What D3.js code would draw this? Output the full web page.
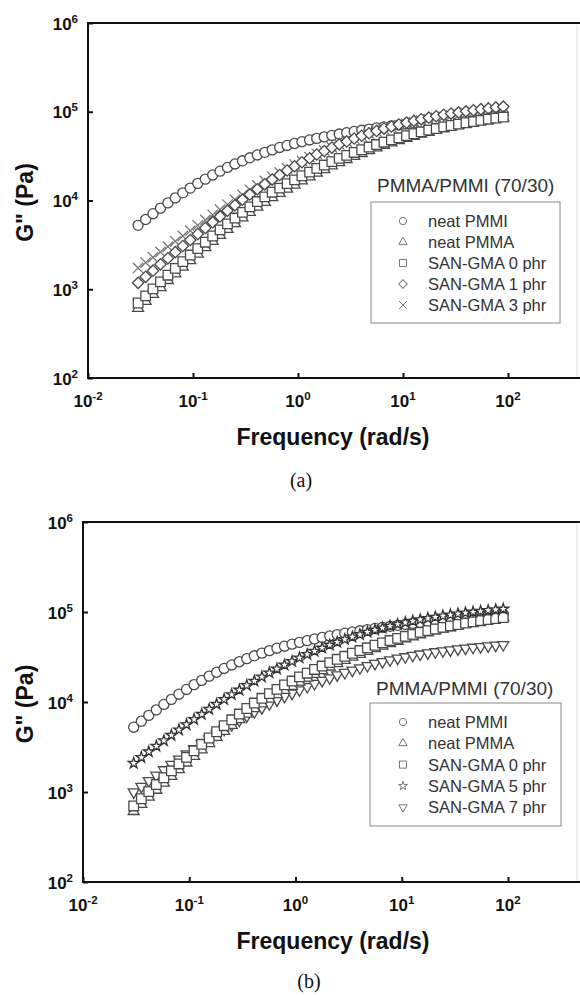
<!DOCTYPE html>
<html>
<head>
<meta charset="utf-8">
<script src="https://cdn.jsdelivr.net/npm/d3@7"></script>
<style>
  body { margin: 0; background: #fff; }
  svg { display: block; }
</style>
</head>
<body>
<div id="chart"></div>
<script>
// Loss modulus G'' vs frequency, PMMA/PMMI (70/30) blends

// Frequency (rad/s), same grid for all samples
const freq = [
    0.0300, 0.0354, 0.0416, 0.0490, 0.0577, 0.0679, 0.0800, 0.0942, 0.111, 0.131,
    0.154, 0.181, 0.213, 0.251, 0.296, 0.348, 0.410, 0.483, 0.568, 0.669,
    0.788, 0.928, 1.09, 1.29, 1.51, 1.78, 2.10, 2.47, 2.91, 3.43,
    4.04, 4.75, 5.60, 6.59, 7.76, 9.14, 10.8, 12.7, 14.9, 17.6,
    20.7, 24.4, 28.7, 33.8, 39.8, 46.9, 55.2, 65.0, 76.6, 90.2
];

// G'' (Pa)
const neatPMMI = [
    5250, 6110, 7100, 8180, 9400, 10700, 12200, 13800, 15600, 17400,
    19400, 21400, 23600, 25800, 28000, 30300, 32600, 34900, 37200, 39600,
    41700, 43900, 46000, 48100, 50100, 52100, 54100, 56100, 58100, 60000,
    61800, 63700, 65600, 67500, 69300, 71100, 72900, 74800, 76600, 78300,
    80200, 81900, 83600, 85300, 86900, 88500, 90000, 91400, 92900, 94400
];
const neatPMMA = [
    610, 733, 879, 1050, 1260, 1500, 1780, 2110, 2500, 2950,
    3470, 4060, 4740, 5520, 6400, 7380, 8470, 9570, 10800, 12100,
    13500, 15000, 16700, 18500, 20400, 22400, 24600, 26800, 29100, 31600,
    34000, 36600, 39300, 42000, 44800, 47500, 50400, 53200, 56100, 59000,
    61800, 64700, 67500, 70300, 73100, 75900, 78500, 81300, 84000, 86500
];
const sanGma0 = [
    700, 841, 1010, 1210, 1440, 1720, 2050, 2430, 2870, 3390,
    3980, 4670, 5450, 6340, 7350, 8470, 9730, 11000, 12400, 13800,
    15500, 17100, 19000, 20900, 23000, 25100, 27400, 29800, 32200, 34800,
    37300, 40000, 42700, 45400, 48200, 50900, 53700, 56500, 59300, 62100,
    64700, 67500, 70000, 72600, 75200, 77600, 80000, 82400, 84700, 86900
];
const sanGma1 = [
    1180, 1380, 1620, 1910, 2230, 2620, 3070, 3590, 4200, 4900,
    5700, 6620, 7670, 8850, 10200, 11700, 13400, 15200, 17200, 19400,
    21800, 24300, 27000, 29900, 33000, 36100, 39500, 42900, 46300, 49900,
    53600, 57200, 60800, 64600, 68200, 71800, 75300, 78900, 82200, 85700,
    88900, 92300, 95300, 98200, 101000, 104000, 107000, 109000, 112000, 114000
];
const sanGma3 = [
    1740, 2000, 2290, 2630, 3020, 3470, 3980, 4570, 5250, 6030,
    6900, 7890, 9000, 10200, 11600, 13200, 14800, 16600, 18600, 20700,
    23000, 25400, 28000, 30700, 33600, 36600, 39700, 43000, 46200, 49700,
    53100, 56500, 60000, 63400, 66700, 70000, 73100, 76200, 79300, 82200,
    85100, 87700, 90200, 92500, 94800, 97100, 99100, 101000, 103000, 105000
];
const sanGma5 = [
    2090, 2420, 2800, 3230, 3720, 4270, 4900, 5610, 6410, 7310,
    8320, 9440, 10700, 12100, 13600, 15300, 17100, 19000, 21100, 23300,
    25800, 28300, 31000, 33800, 36700, 39800, 43000, 46200, 49600, 52800,
    56200, 59700, 63100, 66500, 69800, 73100, 76200, 79300, 82200, 85100,
    87900, 90600, 93100, 95500, 98000, 100000, 102000, 104000, 106000, 108000
];
const sanGma7 = [
    1000, 1150, 1330, 1530, 1760, 2020, 2310, 2640, 3010, 3420,
    3880, 4390, 4960, 5570, 6250, 6980, 7760, 8610, 9510, 10500,
    11500, 12500, 13600, 14800, 16000, 17300, 18500, 19900, 21200, 22500,
    23900, 25300, 26700, 28000, 29300, 30600, 31700, 32900, 34000, 35000,
    36000, 36900, 37800, 38700, 39500, 40400, 41100, 41900, 42600, 43300
];

// Axis ticks
const xTicks = [1e-2, 1e-1, 1, 10, 100];
const xTickExps = ["-2", "-1", "0", "1", "2"];
const yTicks = [1e2, 1e3, 1e4, 1e5, 1e6];
const yTickExps = ["2", "3", "4", "5", "6"];

const legendTitle = "PMMA/PMMI (70/30)";
const xTitle = "Frequency (rad/s)";
const yTitle = "G\" (Pa)";

// Marker styles
const styles = {
    pmmi:  { label: "neat PMMI",       symbol: d3.symbolCircle,   size: 80, rot: 0,   stroke: "#4a4a4a", legendSize: 42 },
    pmma:  { label: "neat PMMA",       symbol: d3.symbolTriangle, size: 52, rot: 0,   stroke: "#4a4a4a", legendSize: 30 },
    g0:    { label: "SAN-GMA 0 phr",   symbol: d3.symbolSquare,   size: 92, rot: 0,   stroke: "#4a4a4a", legendSize: 50 },
    g1:    { label: "SAN-GMA 1 phr",   symbol: d3.symbolSquare,   size: 64, rot: 45,  stroke: "#4a4a4a", legendSize: 36 },
    g3:    { label: "SAN-GMA 3 phr",   symbol: d3.symbolTimes,    size: 72, rot: 0,   stroke: "#777", legendSize: 42 },
    g5:    { label: "SAN-GMA 5 phr",   symbol: d3.symbolStar,     size: 36, rot: 0,   stroke: "#333", legendSize: 24 },
    g7:    { label: "SAN-GMA 7 phr",   symbol: d3.symbolTriangle, size: 52, rot: 180, stroke: "#4a4a4a", legendSize: 30 }
};

const panels = [
    {
        name: "(a)", left: 88, x100: 508, top: 23, bottom: 378,
        series: { pmmi: neatPMMI, pmma: neatPMMA, g0: sanGma0, g1: sanGma1, g3: sanGma3 },
        legendOrder: ["pmmi", "pmma", "g0", "g1", "g3"],
        drawOrder: ["pmmi", "g3", "g1", "pmma", "g0"],
        legend: { titleX: 377, titleY: 192, x: 371, y: 202, w: 189, h: 121, row0: 221, rowStep: 21 },
        caption: { x: 301, y: 487 }
    },
    {
        name: "(b)", left: 83, x100: 508, top: 522, bottom: 882,
        series: { pmmi: neatPMMI, pmma: neatPMMA, g0: sanGma0, g5: sanGma5, g7: sanGma7 },
        legendOrder: ["pmmi", "pmma", "g0", "g5", "g7"],
        drawOrder: ["pmmi", "g7", "pmma", "g0", "g5"],
        legend: { titleX: 376, titleY: 695, x: 370, y: 703, w: 191, h: 123, row0: 722, rowStep: 21.3 },
        caption: { x: 309, y: 988 }
    }
];

const W = 580, H = 995;
const svg = d3.select("#chart").append("svg")
    .attr("width", W)
    .attr("height", H)
    .style("font-family", "'Liberation Sans', Arial, sans-serif");

function drawPanel(p) {
    const g = svg.append("g");

    const x = d3.scaleLog().domain([1e-2, 1e2]).range([p.left, p.x100]);
    const y = d3.scaleLog().domain([1e2, 1e6]).range([p.bottom, p.top]);

    // frame: top line runs to the edge, right side is a faint line
    g.append("line")
        .attr("x1", p.left).attr("x2", W)
        .attr("y1", p.top).attr("y2", p.top)
        .attr("stroke", "#111").attr("stroke-width", 2);
    g.append("line")
        .attr("x1", 577).attr("x2", 577)
        .attr("y1", p.top + 2).attr("y2", p.bottom)
        .attr("stroke", "#ddd").attr("stroke-width", 1);

    // bottom axis
    const gx = g.append("g")
        .attr("transform", `translate(0,${p.bottom})`)
        .call(d3.axisBottom(x).tickValues(xTicks).tickSize(-5).tickSizeOuter(0).tickFormat(""));
    gx.select(".domain").remove();
    gx.selectAll(".tick line").attr("stroke", "#111").attr("stroke-width", 2);
    g.append("line")
        .attr("x1", p.left - 1).attr("x2", W)
        .attr("y1", p.bottom).attr("y2", p.bottom)
        .attr("stroke", "#111").attr("stroke-width", 2);

    // left axis
    const gy = g.append("g")
        .attr("transform", `translate(${p.left},0)`)
        .call(d3.axisLeft(y).tickValues(yTicks).tickSize(-5).tickSizeOuter(0).tickFormat(""));
    gy.select(".domain").remove();
    gy.selectAll(".tick line").attr("stroke", "#111").attr("stroke-width", 2);
    g.append("line")
        .attr("x1", p.left).attr("x2", p.left)
        .attr("y1", p.top - 1).attr("y2", p.bottom + 1)
        .attr("stroke", "#111").attr("stroke-width", 2);

    // tick labels as 10 with superscript
    xTicks.forEach((v, i) => {
        const t = g.append("text")
            .attr("x", x(v))
            .attr("y", p.bottom + 29)
            .attr("text-anchor", "middle")
            .style("font-size", "17px")
            .style("font-weight", "bold")
            .attr("fill", "#111");
        t.append("tspan").text("10");
        t.append("tspan").attr("dy", -7).style("font-size", "11.5px").text(xTickExps[i]);
    });
    yTicks.forEach((v, i) => {
        const t = g.append("text")
            .attr("x", p.left - 10)
            .attr("y", y(v) + 6.5)
            .attr("text-anchor", "end")
            .style("font-size", "17px")
            .style("font-weight", "bold")
            .attr("fill", "#111");
        t.append("tspan").text("10");
        t.append("tspan").attr("dy", -7).style("font-size", "11.5px").text(yTickExps[i]);
    });

    // axis titles
    g.append("text")
        .attr("x", 333)
        .attr("y", p.bottom + 67)
        .attr("text-anchor", "middle")
        .style("font-size", "23px")
        .style("font-weight", "bold")
        .attr("fill", "#111")
        .text(xTitle);
    g.append("text")
        .attr("transform", `translate(33,${(p.top + p.bottom) / 2 + 2}) rotate(-90)`)
        .attr("text-anchor", "middle")
        .style("font-size", "23px")
        .style("font-weight", "bold")
        .attr("fill", "#111")
        .text(yTitle);

    // data markers
    p.drawOrder.forEach(key => {
        const s = styles[key];
        const values = p.series[key];
        const pts = freq.map((f, i) => ({ f: f, v: values[i] }));
        const sym = d3.symbol().type(s.symbol).size(s.size);
        g.append("g").selectAll("path")
            .data(pts)
            .enter().append("path")
            .attr("d", sym)
            .attr("transform", d => `translate(${x(d.f)},${y(d.v)}) rotate(${s.rot})`)
            .attr("fill", s.symbol === d3.symbolTimes ? "none" : "#fff")
            .attr("stroke", s.stroke)
            .attr("stroke-width", 1.3);
    });

    // legend
    const L = p.legend;
    g.append("text")
        .attr("x", L.titleX)
        .attr("y", L.titleY)
        .style("font-size", "19px")
        .attr("fill", "#333")
        .text(legendTitle);
    g.append("rect")
        .attr("x", L.x).attr("y", L.y)
        .attr("width", L.w).attr("height", L.h)
        .attr("fill", "#fff")
        .attr("stroke", "#888")
        .attr("stroke-width", 1);
    p.legendOrder.forEach((key, i) => {
        const s = styles[key];
        const cy = L.row0 + i * L.rowStep;
        g.append("path")
            .attr("d", d3.symbol().type(s.symbol).size(s.legendSize))
            .attr("transform", `translate(403,${cy}) rotate(${s.rot})`)
            .attr("fill", "none")
            .attr("stroke", "#777")
            .attr("stroke-width", 1);
        g.append("text")
            .attr("x", 428)
            .attr("y", cy + 6)
            .style("font-size", "16.5px")
            .attr("fill", "#333")
            .text(s.label);
    });

    // panel caption
    g.append("text")
        .attr("x", p.caption.x)
        .attr("y", p.caption.y)
        .attr("text-anchor", "middle")
        .style("font-family", "'Liberation Serif', 'Times New Roman', serif")
        .style("font-size", "20px")
        .attr("fill", "#111")
        .text(p.name);
}

panels.forEach(drawPanel);
</script>
</body>
</html>
